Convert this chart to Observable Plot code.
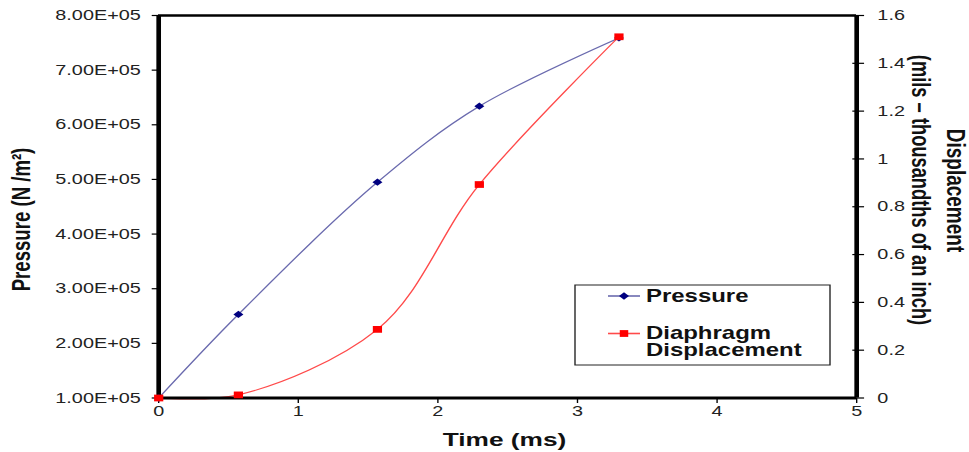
<!DOCTYPE html>
<html><head><meta charset="utf-8">
<script src="https://cdn.jsdelivr.net/npm/d3@7"></script>
<script src="https://cdn.jsdelivr.net/npm/@observablehq/plot@0.6"></script>
<style>html,body{margin:0;padding:0;background:#fff;} #chart svg{display:block;}</style>
</head><body><div id="chart"></div>
<script>
// ---- data ----
const timeMs = [0, 0.571, 1.567, 2.297, 3.297];
const pressure = [1.0e5, 2.53e5, 4.95e5, 6.34e5, 7.59e5];
const displacement = [0, 0.013, 0.287, 0.893, 1.511];
const leftTicks = [1e5, 2e5, 3e5, 4e5, 5e5, 6e5, 7e5, 8e5];
const rightTicks = [0, 0.2, 0.4, 0.6, 0.8, 1, 1.2, 1.4, 1.6];
const xTicks = [0, 1, 2, 3, 4, 5];
const seriesNames = ["Pressure", "Diaphragm", "Displacement"];
const xTitle = "Time (ms)";
const yTitle = "Pressure (N /m²)";
const y2Title = ["Displacement", "(mils – thousandths of an inch)"];

// ---- layout ----
const W = 969, H = 452, W0 = 708, S = W / W0; // reference is horizontally stretched
const font = "'Liberation Sans', Arial, Helvetica, sans-serif";
const pColor = "#6a6aae", pMark = "#000080";
const dColor = "#ff4a4a", dMark = "#ff0000";
const toP = d => 1e5 + d * (7e5 / 1.6);

const pData = timeMs.map((t, i) => ({t, v: pressure[i]}));
const dData = timeMs.map((t, i) => ({t, v: toP(displacement[i])}));

const chart = Plot.plot({
  width: W0, height: H,
  marginLeft: 158 / S, marginRight: 113 / S, marginTop: 15, marginBottom: 54.5,
  style: {fontFamily: font, background: "white", overflow: "visible", color: "#222"},
  x: {domain: [0, 5]},
  y: {domain: [1e5, 8e5]},
  marks: [
    Plot.axisY(leftTicks, {anchor: "left", tickSize: 4.6, tickPadding: 8.5, fontSize: 14.5,
      tickFormat: v => (v / 1e5).toFixed(2) + "E+05", label: null, stroke: "#000", strokeWidth: 1.2, fill: "#222"}),
    Plot.axisY(rightTicks.map(toP), {anchor: "right", tickSize: 8.6, tickPadding: 10.2, dx: -3.7, fontSize: 14.5,
      tickFormat: v => d3.format("~g")(+((v - 1e5) / (7e5 / 1.6)).toFixed(3)), label: null, stroke: "#000", strokeWidth: 1.2, fill: "#222"}),
    Plot.axisX(xTicks, {anchor: "bottom", tickSize: 5.5, tickPadding: 2.5, fontSize: 14.5,
      tickFormat: d3.format("d"), label: null, stroke: "#000", strokeWidth: 1, fill: "#222"}),
    Plot.line(pData, {x: "t", y: "v", stroke: pColor, strokeWidth: 1.1, curve: "catmull-rom", clip: false}),
    Plot.line(dData, {x: "t", y: "v", stroke: dColor, strokeWidth: 1.1, curve: "catmull-rom", clip: false}),
    Plot.ruleX([0, 5], {stroke: "#000", strokeWidth: 3.4}),
    Plot.ruleY([1e5], {stroke: "#000", strokeWidth: 3}),
    Plot.ruleY([8e5], {stroke: "#000", strokeWidth: 2.5}),
    Plot.dot(pData, {x: "t", y: "v", symbol: "diamond2", r: 3.3, fill: pMark, stroke: "none"}),
    Plot.dot(dData, {x: "t", y: "v", symbol: "square", r: 3.8, fill: dMark, stroke: "none"})
  ]
});

const svg = d3.select(chart);
// axis titles
svg.append("text").attr("transform", `translate(${21.5 / S},219.5) rotate(-90)`)
  .attr("text-anchor", "middle").attr("dominant-baseline", "central")
  .attr("font-family", font).attr("font-weight", "bold").attr("font-size", 18.6).attr("fill", "#111").text(yTitle);
svg.append("text").attr("x", 504.5 / S).attr("y", 446.5).attr("text-anchor", "middle")
  .attr("font-family", font).attr("font-weight", "bold").attr("font-size", 19.2).attr("fill", "#111").text(xTitle);
svg.append("text").attr("transform", `translate(${956 / S},190.5) rotate(90)`)
  .attr("text-anchor", "middle").attr("dominant-baseline", "central")
  .attr("font-family", font).attr("font-weight", "bold").attr("font-size", 19).attr("fill", "#111").text(y2Title[0]);
svg.append("text").attr("transform", `translate(${921 / S},190) rotate(90)`)
  .attr("text-anchor", "middle").attr("dominant-baseline", "central")
  .attr("font-family", font).attr("font-weight", "bold").attr("font-size", 18.3).attr("fill", "#111").text(y2Title[1]);

// legend
const lg = svg.append("g").attr("font-family", font).attr("font-weight", "bold").attr("font-size", 17.5).attr("text-anchor", "start");
lg.append("rect").attr("x", 575 / S).attr("y", 285).attr("width", (830 - 575) / S).attr("height", 80)
  .attr("fill", "white").attr("stroke", "#222").attr("stroke-width", 1);
const x1 = 608 / S, x2 = 640 / S, xm = (x1 + x2) / 2, xt = 646 / S;
lg.append("path").attr("d", `M${x1},296H${x2}`).attr("fill", "none").attr("stroke", pColor).attr("stroke-width", 1.6);
lg.append("path").attr("transform", `translate(${xm},296)`).attr("d", d3.symbol(d3.symbolDiamond2, 3.3 * 3.3 * Math.PI)()).attr("fill", pMark);
lg.append("text").attr("x", xt).attr("y", 296).attr("dominant-baseline", "central").attr("fill", "#111").text(seriesNames[0]);
lg.append("path").attr("d", `M${x1},333.5H${x2}`).attr("fill", "none").attr("stroke", dColor).attr("stroke-width", 1.6);
lg.append("rect").attr("x", xm - 3.1).attr("y", 333.5 - 3.4).attr("width", 6.2).attr("height", 6.8).attr("fill", dMark);
lg.append("text").attr("x", xt).attr("y", 332.5).attr("dominant-baseline", "central").attr("fill", "#111").text(seriesNames[1]);
lg.append("text").attr("x", xt).attr("y", 350).attr("dominant-baseline", "central").attr("fill", "#111").text(seriesNames[2]);

// stretch horizontally like the reference
chart.setAttribute("width", W);
chart.setAttribute("height", H);
chart.setAttribute("viewBox", `0 0 ${W0} ${H}`);
chart.setAttribute("preserveAspectRatio", "none");
chart.style.maxWidth = "none";
chart.style.width = W + "px";
chart.style.height = H + "px";
document.getElementById("chart").appendChild(chart);
</script>
</body></html>
